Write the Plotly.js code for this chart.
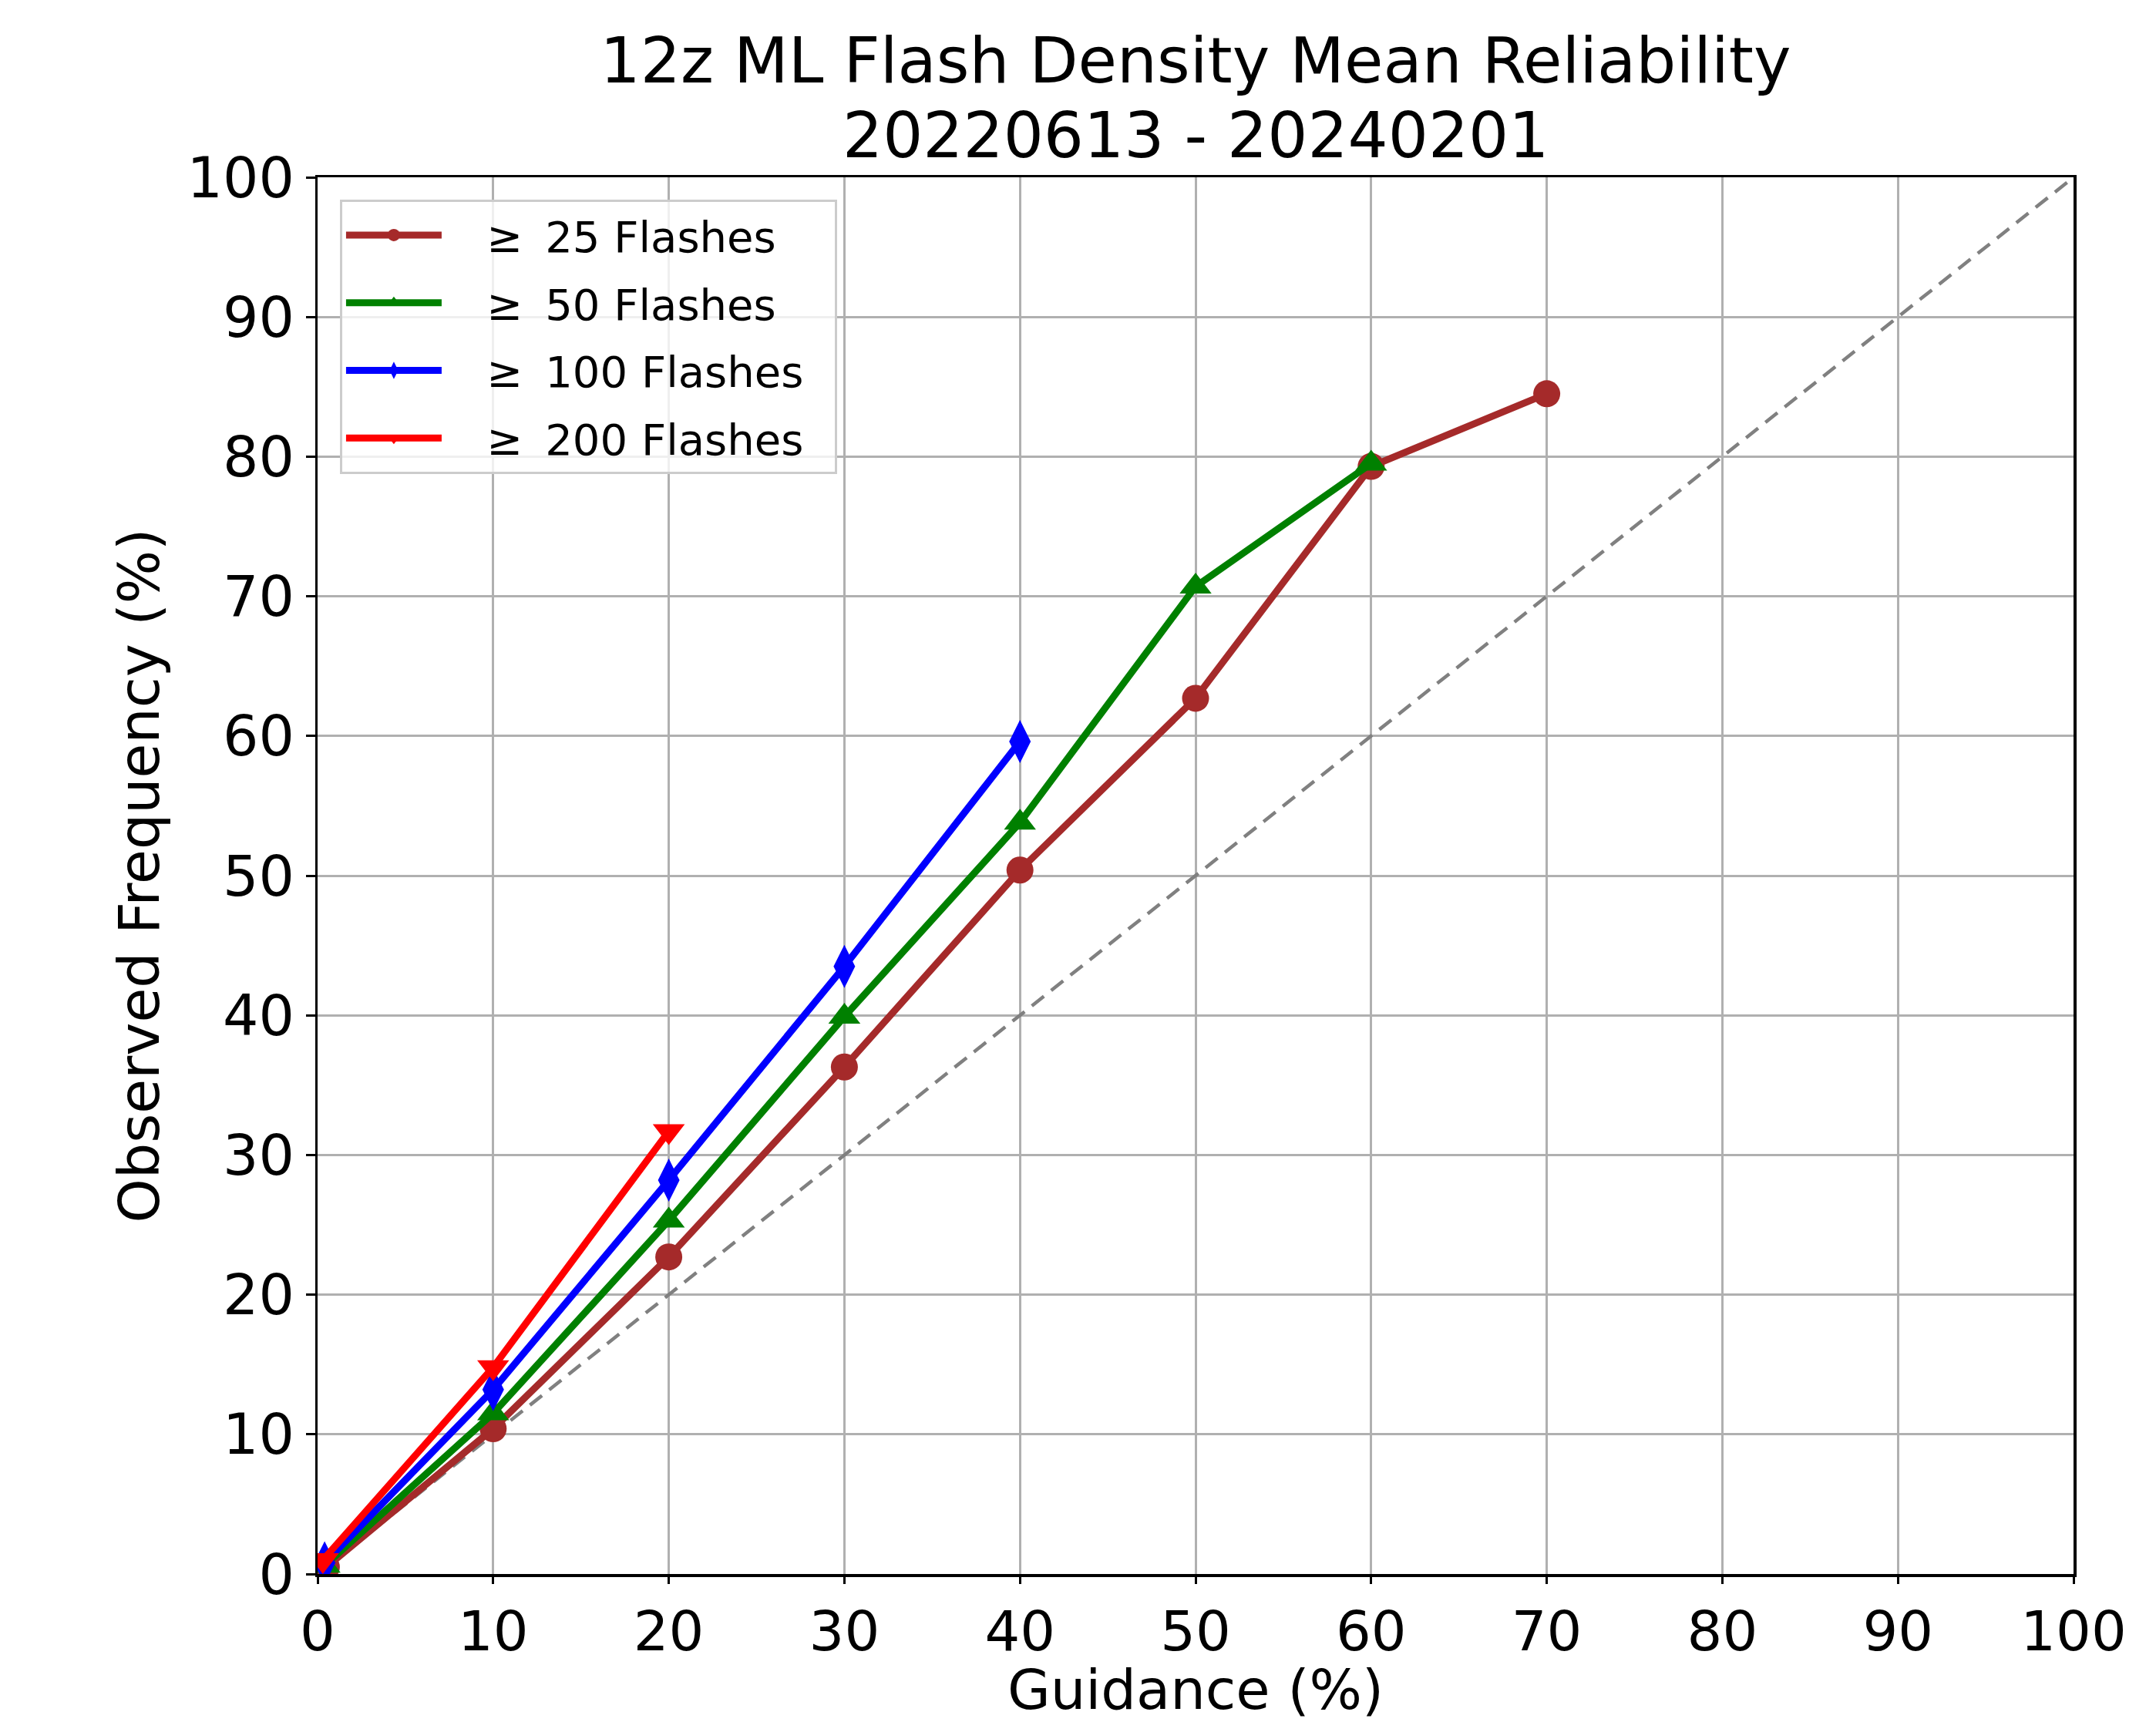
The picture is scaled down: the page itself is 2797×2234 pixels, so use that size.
<!DOCTYPE html>
<html>
<head>
<meta charset="utf-8">
<script src="https://cdn.plot.ly/plotly-3.0.1.min.js"></script>
<style>html,body{margin:0;padding:0;background:#fff;}#chart{width:2797px;height:2234px;}</style>
</head>
<body>
<div id="chart"></div>
<script>
// Data
const guidance25 = [0.5, 10, 20, 30, 40, 50, 60, 70];
const observed25 = [0.5, 10.4, 22.7, 36.3, 50.4, 62.7, 79.3, 84.5];
const guidance50 = [0.4, 10, 20, 30, 40, 50, 60];
const observed50 = [0.6, 11.5, 25.3, 39.9, 53.8, 70.7, 79.5];
const guidance100 = [0.4, 10, 20, 30, 40];
const observed100 = [0.8, 13.2, 28.2, 43.5, 59.6];
const guidance200 = [0.3, 10, 20];
const observed200 = [1.0, 14.8, 31.7];
const perfectX = [0, 100];
const perfectY = [0, 100];
const seriesNames = ["\u00a0\u00a0\u00a0\u2265\u2009 25 Flashes\u00a0\u00a0", "\u00a0\u00a0\u00a0\u2265\u2009 50 Flashes\u00a0\u00a0",
                     "\u00a0\u00a0\u00a0\u2265\u2009 100 Flashes\u00a0\u00a0", "\u00a0\u00a0\u00a0\u2265\u2009 200 Flashes\u00a0\u00a0"];
const titleLine1 = "12z ML Flash Density Mean Reliability";
const titleLine2 = "20220613 - 20240201";
const xTitle = "Guidance (%)";
const yTitle = "Observed Frequency (%)";
const tickValues = [0, 10, 20, 30, 40, 50, 60, 70, 80, 90, 100];

const FONT = "DejaVu Sans, Liberation Sans, sans-serif";

const traces = [
  {x: perfectX, y: perfectY, mode: "lines", showlegend: false, hoverinfo: "skip",
   line: {color: "#808080", width: 4.5, dash: "20px,12px"}},
  {x: guidance25, y: observed25, name: seriesNames[0], mode: "lines+markers", legendgroup: "a",
   line: {color: "#a52a2a", width: 9}, marker: {symbol: "circle", size: 35, color: "#a52a2a"}},
  {x: guidance50, y: observed50, name: seriesNames[1], mode: "lines+markers", legendgroup: "b",
   line: {color: "#008000", width: 9}, marker: {symbol: "triangle-up", size: 36, color: "#008000"}},
  {x: guidance100, y: observed100, name: seriesNames[2], mode: "lines+markers", legendgroup: "c",
   line: {color: "#0000ff", width: 9}, marker: {symbol: "diamond-tall", size: 40, color: "#0000ff"}},
  {x: guidance200, y: observed200, name: seriesNames[3], mode: "lines+markers", legendgroup: "d",
   line: {color: "#ff0000", width: 9}, marker: {symbol: "triangle-down", size: 36, color: "#ff0000"}}
];

const axisCommon = {
  range: [0, 100], tickmode: "array", tickvals: tickValues, ticktext: tickValues.map(String),
  showgrid: true, gridcolor: "#b0b0b0", gridwidth: 3, zeroline: false,
  showline: true, linecolor: "#000", linewidth: 3.5, mirror: true,
  ticks: "outside", ticklen: 12, tickwidth: 3, tickcolor: "#000",
  tickfont: {family: FONT, size: 73, color: "#000"}, fixedrange: true
};

const layout = {
  width: 2797, height: 2234,
  paper_bgcolor: "#fff", plot_bgcolor: "#fff",
  margin: {l: 412, r: 107, t: 230, b: 192},
  font: {family: FONT, color: "#000"},
  title: {text: titleLine1,
          font: {family: FONT, size: 82, color: "#000"},
          x: 0.5, xref: "paper", xanchor: "center", y: 0.978, yref: "container", yanchor: "top"},
  annotations: [{
    text: titleLine2, xref: "paper", yref: "paper", x: 0.5, y: 1.030,
    xanchor: "center", yanchor: "middle", showarrow: false,
    font: {family: FONT, size: 82, color: "#000"}
  }],
  xaxis: Object.assign({}, axisCommon, {
    ticklen: 9,
    tickfont: {family: FONT, size: 72, color: "#000"},
    title: {text: xTitle, font: {family: FONT, size: 72, color: "#000"}, standoff: 16}
  }),
  yaxis: Object.assign({}, axisCommon, {
    title: {text: yTitle, font: {family: FONT, size: 73, color: "#000"}, standoff: 13}
  }),
  legend: {
    x: 0.0127, y: 0.984, xanchor: "left", yanchor: "top",
    bgcolor: "rgba(255,255,255,0.8)", bordercolor: "#cccccc", borderwidth: 3,
    font: {family: FONT, size: 56, color: "#000"},
    itemwidth: 124, tracegroupgap: 12, itemsizing: "trace"
  },
  showlegend: true
};

Plotly.newPlot("chart", traces, layout, {staticPlot: true, displayModeBar: false});
</script>
</body>
</html>
